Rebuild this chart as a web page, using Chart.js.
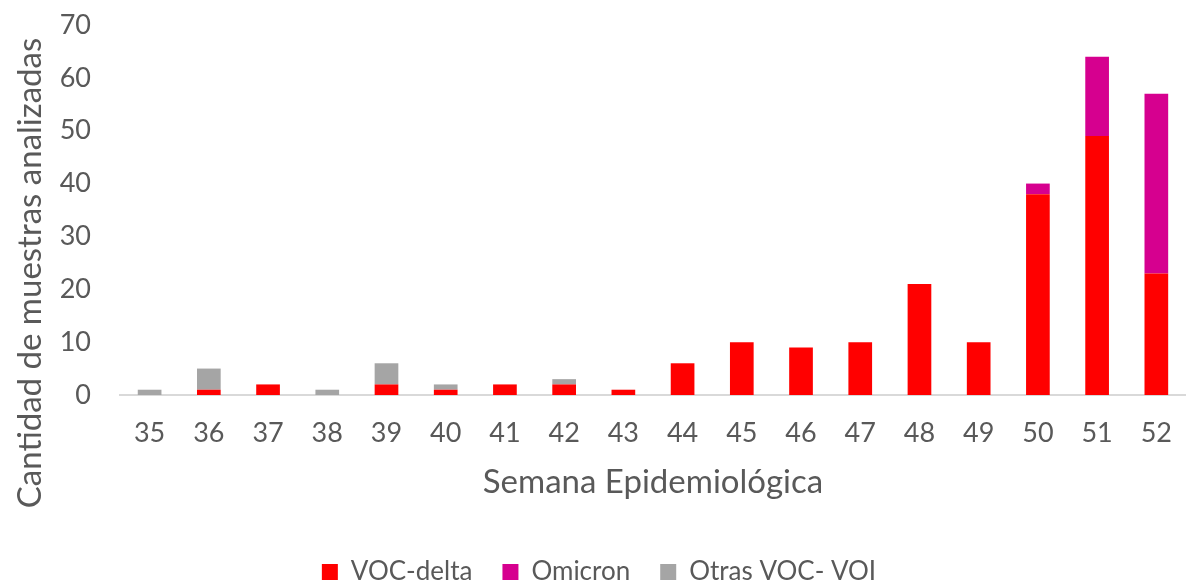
<!DOCTYPE html>
<html>
<head>
<meta charset="utf-8">
<script src="https://cdn.jsdelivr.net/npm/chart.js@4"></script>
<style>
  html, body { margin: 0; padding: 0; background: #fff; }
  #wrap { width: 1194px; height: 585px; }
</style>
</head>
<body>
<div id="wrap"><canvas id="grafico"></canvas></div>
<script>
// semanas epidemiológicas
const semanas = ['35','36','37','38','39','40','41','42','43','44','45','46','47','48','49','50','51','52'];
const vocDelta = [0, 1, 2, 0, 2, 1, 2, 2, 1, 6, 10, 9, 10, 21, 10, 38, 49, 23];
const omicron  = [0, 0, 0, 0, 0, 0, 0, 0, 0, 0, 0, 0, 0, 0, 0, 2, 15, 34];
const otras    = [1, 4, 0, 1, 4, 1, 0, 1, 0, 0, 0, 0, 0, 0, 0, 0, 0, 0];
const ticksY = [0, 10, 20, 30, 40, 50, 60, 70];
const tituloY = 'Cantidad de muestras analizadas';

const fuente = 'Lato, "Open Sans", sans-serif';
const gris = '#595959';
const padAbajo = -10;

// el título del eje Y va centrado en la figura, no en el área del gráfico
const tituloEjeY = {
    id: 'tituloEjeY',
    afterDraw(chart) {
        const c = chart.ctx;
        c.save();
        c.translate(30, 273);
        c.rotate(-Math.PI / 2);
        c.fillStyle = gris;
        c.font = '33px ' + fuente;
        c.textAlign = 'center';
        c.textBaseline = 'middle';
        c.fillText(tituloY, 0, 0);
        c.restore();
    }
};

const ctx = document.getElementById('grafico').getContext('2d');
new Chart(ctx, {
    type: 'bar',
    data: {
        labels: semanas,
        datasets: [
            { label: 'VOC-delta', data: vocDelta, backgroundColor: '#FF0000' },
            { label: 'Omicron', data: omicron, backgroundColor: '#D6008F' },
            { label: 'Otras VOC- VOI', data: otras, backgroundColor: '#A5A5A5' }
        ]
    },
    plugins: [tituloEjeY],
    options: {
        responsive: true,
        maintainAspectRatio: false,
        animation: false,
        layout: { padding: { left: 0, right: -4, top: 25, bottom: padAbajo } },
        datasets: { bar: { barPercentage: 0.8, categoryPercentage: 0.5 } },
        plugins: {
            tooltip: { enabled: false },
            legend: {
                position: 'bottom',
                labels: {
                    color: gris,
                    font: { family: fuente, size: 26 },
                    boxWidth: 16,
                    boxHeight: 16,
                    padding: 30
                }
            }
        },
        scales: {
            x: {
                stacked: true,
                grid: { display: false, drawTicks: false },
                border: { display: true, color: '#D9D9D9', width: 2 },
                ticks: { color: gris, font: { family: fuente, size: 27 }, padding: 22 },
                title: {
                    display: true,
                    text: 'Semana Epidemiológica',
                    color: gris,
                    font: { family: fuente, size: 33 },
                    padding: { top: 4, bottom: 27 }
                },
                afterFit(eje) {
                    eje.height = 134;
                }
            },
            y: {
                stacked: true,
                min: 0,
                max: 70,
                afterBuildTicks: (eje) => { eje.ticks = ticksY.map(v => ({ value: v })); },
                afterFit(eje) {
                    eje.width = 120;
                    eje.paddingTop = 0;
                    eje.paddingBottom = 0;
                },
                grid: { display: false, drawTicks: false },
                border: { display: false },
                ticks: { color: gris, font: { family: fuente, size: 27 }, padding: 29 }
            }
        }
    }
});
</script>
</body>
</html>
